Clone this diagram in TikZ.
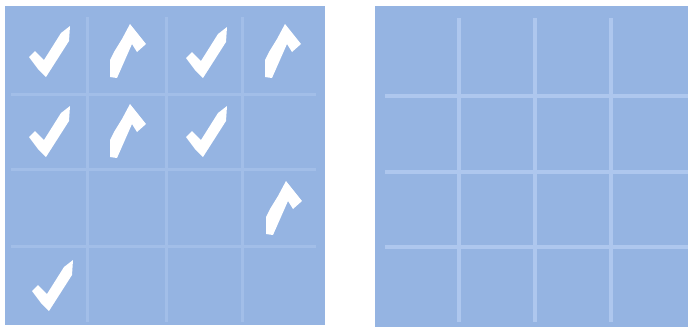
\documentclass[tikz,border=0pt]{standalone}
\definecolor{panelbg}{RGB}{149,180,226}
\definecolor{gridA}{RGB}{162,190,232}
\definecolor{gridB}{RGB}{174,199,238}
\tikzset{
  panel/.style={fill=panelbg, draw=none},
  gridleft/.style={draw=gridA, line width=3pt},
  gridright/.style={draw=gridB, line width=3.5pt},
  tick/.pic={\fill[white] (-17,7) -- (-11,1) -- (-2,10) -- (15,-17) -- (24,-24) -- (23,-9) -- (0,27) -- (-8,19) -- cycle;},
  caret/.pic={\fill[white] (4,-26) -- (20,-6) -- (11,2) -- (6,-6) -- (-9,28) -- (-16,27) -- (-16,10) -- (-12,2) -- (-4,-11) -- cycle;}
}
\begin{document}
\begin{tikzpicture}[x=1pt,y=-1pt]
\useasboundingbox (0,0) rectangle (688,330);
% left panel
\fill[panel] (5,6) rectangle (325,325);
\foreach \x in {87,166,242} \draw[gridleft] (\x,17) -- (\x,322);
\foreach \y in {94,169,246} \draw[gridleft] (11,\y) -- (316,\y);
% right panel
\fill[panel] (375,6) rectangle (688,327);
\foreach \x in {459,535,611} \draw[gridright] (\x,18) -- (\x,322);
\foreach \y in {96,172,247} \draw[gridright] (385,\y) -- (688,\y);
% marks
\pic at (46,50) {tick};
\pic at (126,50) {caret};
\pic at (203,51) {tick};
\pic at (281,50) {caret};
\pic at (46,130) {tick};
\pic at (126,130) {caret};
\pic at (203,130) {tick};
\pic at (282,207) {caret};
\pic at (49,284) {tick};
\end{tikzpicture}
\end{document}
